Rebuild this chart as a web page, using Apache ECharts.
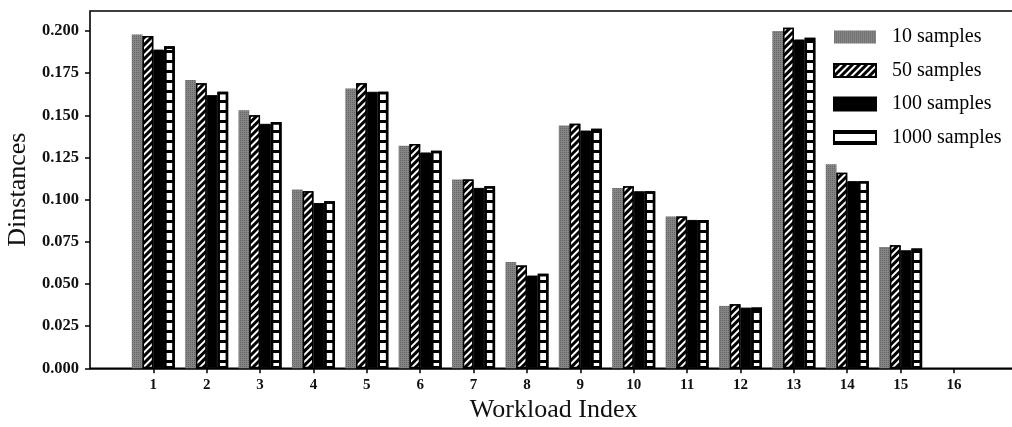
<!DOCTYPE html>
<html>
<head>
<meta charset="utf-8">
<script src="https://cdn.jsdelivr.net/npm/echarts@6/dist/echarts.min.js"></script>
<style>
  html, body { margin: 0; padding: 0; background: #fff; }
  #chart { width: 1012px; height: 427px; }
</style>
</head>
<body>
<div id="chart"></div>
<script>
// Workload indices on the x axis (16 has no measurements)
const workloads = ['1','2','3','4','5','6','7','8','9','10','11','12','13','14','15','16'];

// Distance for each workload at the four sample sizes
const samples10   = [0.198, 0.171, 0.153, 0.106, 0.166, 0.132, 0.112, 0.063, 0.144, 0.107, 0.090, 0.037, 0.200, 0.121, 0.072, null];
const samples50   = [0.197, 0.169, 0.150, 0.105, 0.169, 0.133, 0.112, 0.061, 0.145, 0.108, 0.090, 0.038, 0.202, 0.116, 0.073, null];
const samples100  = [0.189, 0.162, 0.145, 0.098, 0.164, 0.128, 0.107, 0.055, 0.141, 0.105, 0.088, 0.036, 0.195, 0.111, 0.070, null];
const samples1000 = [0.191, 0.164, 0.146, 0.099, 0.164, 0.129, 0.108, 0.056, 0.142, 0.105, 0.088, 0.036, 0.196, 0.111, 0.071, null];

// Y tick values
const yTicks = [0, 0.025, 0.05, 0.075, 0.1, 0.125, 0.15, 0.175, 0.2];

const Y_MAX = 0.2119;
const serif = '"Liberation Serif", "Times New Roman", serif';

const chart = echarts.init(document.getElementById('chart'), null, { renderer: 'canvas' });

const option = {
  animation: false,
  backgroundColor: '#ffffff',
  grid: [
    // bar area: one band per workload
    { left: 126.6, right: 31.3, top: 11, bottom: 58.7, outerBoundsMode: 'none', containLabel: false },
    // frame drawn around the whole plot (right edge runs off the page)
    { left: 90, right: -6, top: 11, bottom: 58.7, show: true, borderColor: '#000', borderWidth: 1.6,
      backgroundColor: 'transparent', outerBoundsMode: 'none', containLabel: false }
  ],
  xAxis: [
    {
      type: 'category', gridIndex: 0, data: workloads,
      axisLine: { show: false },
      axisTick: { show: true, alignWithLabel: true, length: 5, inside: false, lineStyle: { color: '#000', width: 1.5 } },
      axisLabel: { margin: 9, color: '#111', fontFamily: serif, fontWeight: 'bold', fontSize: 15 },
      name: 'Workload Index', nameLocation: 'middle', nameGap: 18,
      nameTextStyle: { fontFamily: serif, fontSize: 26, color: '#111' },
      splitLine: { show: false }
    },
    {
      // bottom edge of the frame, running across the full width
      type: 'value', gridIndex: 1, min: 0, max: 1,
      axisLine: { show: true, onZero: false, lineStyle: { color: '#000', width: 1.6 } },
      axisTick: { show: false }, axisLabel: { show: false }, splitLine: { show: false }
    }
  ],
  yAxis: [
    { type: 'value', gridIndex: 0, min: 0, max: Y_MAX, show: false, splitLine: { show: false } },
    {
      type: 'value', gridIndex: 1, min: 0, max: Y_MAX,
      axisLine: { show: false },
      splitLine: { show: false },
      axisTick: { show: true, inside: false, length: 5, customValues: yTicks, lineStyle: { color: '#000', width: 1.5 } },
      axisLabel: {
        customValues: yTicks, margin: 11, color: '#111',
        fontFamily: serif, fontWeight: 'bold', fontSize: 16.5,
        formatter: v => v.toFixed(3)
      },
      name: 'Dinstances', nameLocation: 'middle', nameGap: 55, nameRotate: 90,
      nameTextStyle: { fontFamily: serif, fontSize: 26, color: '#111' }
    }
  ],
  legend: {
    orient: 'vertical',
    left: 833, top: 27, padding: 0,
    itemWidth: 42, itemHeight: 13, itemGap: 13.5,
    icon: 'rect',
    textStyle: { fontFamily: serif, fontSize: 20, lineHeight: 14, color: '#000', padding: [0, 0, 0, 11] },
    data: ['10 samples', '50 samples', '100 samples', '1000 samples']
  },
  series: [
    {
      name: '10 samples', type: 'bar', xAxisIndex: 0, yAxisIndex: 0,
      data: samples10, barGap: '0%', barCategoryGap: '19.4%',
      itemStyle: {
        color: '#858585',
        decal: { symbol: 'rect', symbolSize: 1, color: 'rgba(60,60,60,0.45)', dashArrayX: [1, 1], dashArrayY: [1, 1] }
      }
    },
    {
      name: '50 samples', type: 'bar', xAxisIndex: 0, yAxisIndex: 0,
      data: samples50, barGap: '0%', barCategoryGap: '19.4%',
      itemStyle: {
        color: '#000', borderColor: '#000', borderWidth: 1.5,
        decal: { symbol: 'rect', symbolSize: 1, color: '#ffffff', dashArrayX: [1, 0], dashArrayY: [1.8, 2.6], rotation: -Math.PI / 4 }
      }
    },
    {
      name: '100 samples', type: 'bar', xAxisIndex: 0, yAxisIndex: 0,
      data: samples100, barGap: '0%', barCategoryGap: '19.4%',
      itemStyle: { color: '#000', borderColor: '#000', borderWidth: 1 }
    },
    {
      name: '1000 samples', type: 'bar', xAxisIndex: 0, yAxisIndex: 0,
      data: samples1000, barGap: '0%', barCategoryGap: '19.4%',
      itemStyle: {
        color: '#ffffff', borderColor: '#000', borderWidth: 2.4,
        decal: { symbol: 'rect', symbolSize: 1, color: '#000', dashArrayX: [1, 0], dashArrayY: [3, 7] }
      }
    }
  ]
};

chart.setOption(option);
</script>
</body>
</html>
